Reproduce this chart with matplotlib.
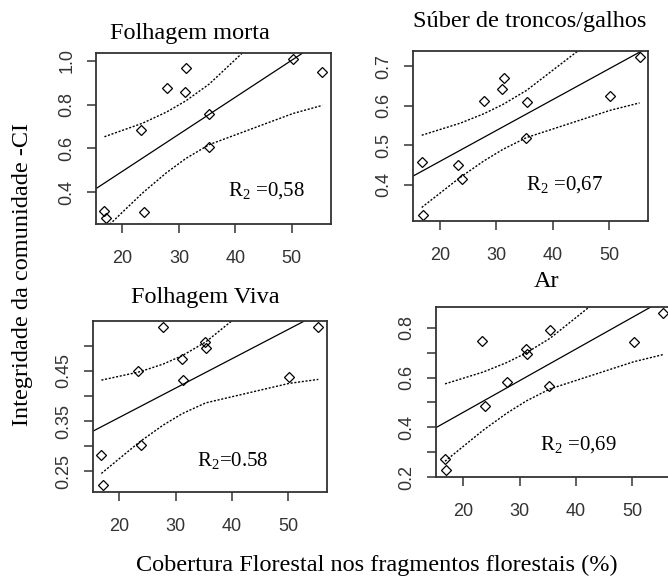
import numpy as np
from matplotlib import pyplot as plt

plt.rcParams['mathtext.fontset'] = 'custom'
plt.rcParams['mathtext.rm'] = 'Liberation Serif'

# cobertura florestal (%) of the 11 fragments
cobertura = [16.8, 17.0, 23.3, 23.9, 27.8, 31.1, 31.3, 35.3, 35.4, 50.2, 55.4]

folhagem_morta = [0.315, 0.283, 0.685, 0.307, 0.874, 0.857, 0.965, 0.605, 0.755, 1.008, 0.950]
suber = [0.457, 0.325, 0.451, 0.414, 0.612, 0.643, 0.670, 0.519, 0.609, 0.624, 0.723]
folhagem_viva = [0.282, 0.222, 0.449, 0.303, 0.537, 0.473, 0.433, 0.507, 0.495, 0.438, 0.537]
ar = [0.274, 0.227, 0.748, 0.486, 0.581, 0.717, 0.694, 0.565, 0.791, 0.742, 0.860]

titles = ['Folhagem morta', 'Súber de troncos/galhos', 'Folhagem Viva', 'Ar']
r2_labels = [r'R$_\mathregular{2}$ =0,58', r'R$_\mathregular{2}$ =0,67',
             r'R$_\mathregular{2}$=0.58', r'R$_\mathregular{2}$ =0,69']
yticks = [[0.4, 0.6, 0.8, 1.0],
          [0.4, 0.5, 0.6, 0.7],
          [0.25, 0.30, 0.35, 0.40, 0.45, 0.50],
          [0.2, 0.3, 0.4, 0.5, 0.6, 0.7, 0.8]]
yticklabels = [['0.4', '0.6', '0.8', '1.0'],
               ['0.4', '0.5', '0.6', '0.7'],
               ['0.25', '', '0.35', '', '0.45', ''],
               ['0.2', '', '0.4', '', '0.6', '', '0.8']]
xticks = [20, 30, 40, 50]

W, H = 668, 584
# axes boxes in pixels: left, top, right, bottom
boxes = [(95.7, 52.7, 331.0, 224.0),
         (413.0, 50.7, 648.3, 221.0),
         (92.7, 321.0, 327.0, 491.7),
         (436.3, 306.7, 671.6, 477.0)]
title_pos = [(190, 39), (530, 26.7), (205.5, 303.3), (547, 287)]
r2_pos = [(228, 196.7), (526, 190.7), (196.7, 466.7), (539.7, 450.7)]

tick_color = '#333333'
serif = 'Liberation Serif'

fig = plt.figure(figsize=(W / 100, H / 100), dpi=100)

for i, yvals in enumerate([folhagem_morta, suber, folhagem_viva, ar]):
    l, t, r, b = boxes[i]
    ax = fig.add_axes([l / W, 1 - b / H, (r - l) / W, (b - t) / H])
    x = np.array(cobertura)
    y = np.array(yvals)

    # R style limits: range + 4%
    xr = x.max() - x.min()
    yr = y.max() - y.min()
    xlim = (x.min() - 0.04 * xr, x.max() + 0.04 * xr)
    ylim = (y.min() - 0.04 * yr, y.max() + 0.04 * yr)

    # linear fit and 95% confidence band
    n = len(x)
    slope, icpt = np.polyfit(x, y, 1)
    resid = y - (icpt + slope * x)
    s = np.sqrt(np.sum(resid ** 2) / (n - 2))
    sxx = np.sum((x - x.mean()) ** 2)
    xs = np.sort(x)
    fit = icpt + slope * xs
    se = s * np.sqrt(1 / n + (xs - x.mean()) ** 2 / sxx)
    tval = 2.262

    ax.plot(xlim, [icpt + slope * xlim[0], icpt + slope * xlim[1]],
            color='black', lw=0.9)
    ax.plot(xs, fit + tval * se, color='black', lw=1.0, ls=(0, (1.5, 1.2)))
    ax.plot(xs, fit - tval * se, color='black', lw=1.0, ls=(0, (1.5, 1.2)))
    ax.plot(x, y, 'D', mfc='none', mec='black', ms=5.3, mew=0.9)

    ax.set_xlim(xlim)
    ax.set_ylim(ylim)
    ax.set_xticks(xticks)
    ax.set_yticks(yticks[i], yticklabels[i])
    for lbl in ax.get_yticklabels():
        lbl.set_rotation(90)
        lbl.set_va('center')
    ax.tick_params(direction='out', length=6.8, width=1.1, colors='#333333',
                   labelsize=13, labelcolor=tick_color)
    ax.tick_params(axis='x', pad=12)
    ax.tick_params(axis='y', pad=8)
    for lbl in ax.get_xticklabels() + ax.get_yticklabels():
        lbl.set_family('Liberation Sans')
    for sp in ax.spines.values():
        sp.set_linewidth(1.3)
        sp.set_color('#333333')

    fig.text(title_pos[i][0] / W, 1 - title_pos[i][1] / H, titles[i],
             ha='center', va='baseline', fontsize=17.5, family=serif)
    fig.text(r2_pos[i][0] / W, 1 - r2_pos[i][1] / H, r2_labels[i],
             ha='left', va='baseline', fontsize=15, family=serif)

fig.text(23 / W, 1 - 274 / H, 'Integridade da comunidade -CI', rotation=90,
         ha='center', va='center', fontsize=17.5, family=serif)
fig.text(376.5 / W, 1 - 565 / H, 'Cobertura Florestal nos fragmentos florestais (%)',
         ha='center', va='center', fontsize=17.5, family=serif)

fig.savefig('out.png', dpi=100)
